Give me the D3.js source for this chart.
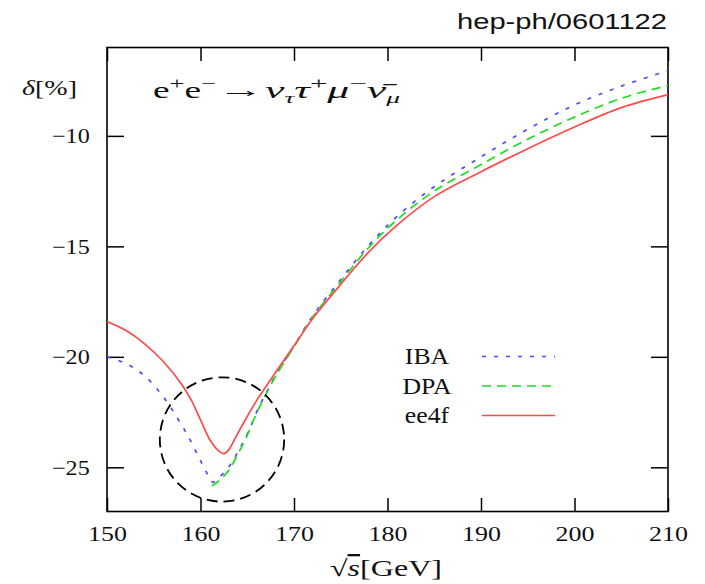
<!DOCTYPE html>
<html>
<head>
<meta charset="utf-8">
<script src="https://cdn.jsdelivr.net/npm/d3@7"></script>
<style>
  body { margin: 0; background: #fff; }
  .tick line { stroke: #000; stroke-width: 1.5; }
  .domain { display: none; }
  text { fill: #111; }
</style>
</head>
<body>
<div class="svg-container"></div>
<script>
// data: delta[%] vs sqrt(s) [GeV]
const ibaX = [150, 152, 154, 156, 158, 159, 160, 161, 161.3, 162, 163, 164, 165, 166, 167, 168, 170, 172, 175, 178, 181, 185, 190, 195, 200, 205, 210];
const ibaY = [-20.0, -20.3, -20.85, -21.8, -23.1, -23.85, -24.7, -25.5, -25.68, -25.45, -25.0, -24.3, -23.5, -22.5, -21.65, -20.85, -19.5, -18.15, -16.5, -14.95, -13.65, -12.3, -10.95, -9.7, -8.6, -7.75, -7.05];

const dpaX = [161.2, 162, 163, 164, 165, 166, 167, 168, 170, 172, 175, 178, 181, 185, 190, 195, 200, 205, 210];
const dpaY = [-25.85, -25.6, -25.15, -24.4, -23.55, -22.55, -21.7, -20.9, -19.55, -18.2, -16.6, -15.05, -13.8, -12.5, -11.3, -10.15, -9.15, -8.3, -7.72];

const ee4fX = [150, 152, 154, 156, 158, 159, 160, 161, 162, 162.5, 163, 164, 165, 166, 168, 170, 172, 175, 178, 181, 185, 190, 195, 200, 205, 210];
const ee4fY = [-18.4, -18.8, -19.4, -20.2, -21.25, -21.95, -22.85, -23.75, -24.28, -24.38, -24.22, -23.45, -22.7, -21.98, -20.72, -19.5, -18.27, -16.72, -15.25, -14.05, -12.75, -11.62, -10.58, -9.6, -8.72, -8.13];

const xTicks = [150, 160, 170, 180, 190, 200, 210];
const yTicks = [-10, -15, -20, -25];
const seriesNames = ["IBA", "DPA", "ee4f"];

// highlighted threshold region
const circleCenter = [162.3, -23.74];
const circleRadius = 6.65; // in GeV units along x

const margin = {top: 47.5, right: 37, bottom: 72.5, left: 107};
const width = 705 - margin.left - margin.right;
const height = 584 - margin.top - margin.bottom;

const serif = '"Liberation Serif", "DejaVu Serif", serif';

const svg = d3.select('.svg-container')
    .append('svg')
    .attr('width', width + margin.left + margin.right)
    .attr('height', height + margin.top + margin.bottom)
    .attr('font-family', serif);

const g = svg.append('g')
    .attr('transform', `translate(${margin.left}, ${margin.top})`);

const x = d3.scaleLinear().domain([150, 210]).range([0, width]);
const y = d3.scaleLinear().domain([-27, -6]).range([height, 0]);

// axes, ticks inward on all four sides
g.append('g')
    .attr('transform', `translate(0,${height})`)
    .call(d3.axisBottom(x).tickValues(xTicks).tickSizeInner(-13.5).tickSizeOuter(0).tickPadding(14).tickFormat(d3.format('d')))
    .call(a => a.attr('font-family', serif).attr('font-size', 22))
    .call(a => a.selectAll('text')
        .attr('fill', '#111')
        .attr('transform', 'scale(1.18,1)'));

g.append('g')
    .call(d3.axisTop(x).tickValues(xTicks).tickSizeInner(-13.5).tickSizeOuter(0).tickFormat(''));

g.append('g')
    .call(d3.axisLeft(y).tickValues(yTicks).tickSizeInner(-17).tickSizeOuter(0).tickPadding(15)
        .tickFormat(d => '\u2212' + Math.abs(d)))
    .call(a => a.attr('font-family', serif).attr('font-size', 21))
    .call(a => a.selectAll('text')
        .attr('fill', '#111')
        .attr('dy', '0.33em')
        .attr('transform', 'scale(1.15,1)'));

g.append('g')
    .attr('transform', `translate(${width},0)`)
    .call(d3.axisRight(y).tickValues(yTicks).tickSizeInner(-17).tickSizeOuter(0).tickFormat(''));

g.append('rect')
    .attr('width', width)
    .attr('height', height)
    .attr('fill', 'none')
    .attr('stroke', '#000')
    .attr('stroke-width', 1.6);

// curves
const line = d3.line()
    .x(d => x(d[0]))
    .y(d => y(d[1]))
    .curve(d3.curveCatmullRom.alpha(0.5));

const series = [
  {name: "IBA", xs: ibaX, ys: ibaY, color: '#4b4bff', dash: '4,8', w: 1.7},
  {name: "DPA", xs: dpaX, ys: dpaY, color: '#1fdc1f', dash: '9,6', w: 1.7},
  {name: "ee4f", xs: ee4fX, ys: ee4fY, color: '#ff4a4a', dash: null, w: 1.7}
];

g.append('clipPath').attr('id', 'clip')
    .append('rect').attr('width', width).attr('height', height);

g.append('g').attr('clip-path', 'url(#clip)')
  .selectAll('path.curve')
  .data(series)
  .enter().append('path')
    .attr('class', 'curve')
    .attr('d', s => line(s.xs.map((v, i) => [v, s.ys[i]])))
    .attr('fill', 'none')
    .attr('stroke', s => s.color)
    .attr('stroke-width', s => s.w)
    .attr('stroke-dasharray', s => s.dash);

// dashed circle
g.append('circle')
    .attr('cx', x(circleCenter[0]))
    .attr('cy', y(circleCenter[1]))
    .attr('r', x(circleCenter[0] + circleRadius) - x(circleCenter[0]))
    .attr('fill', 'none')
    .attr('stroke', '#000')
    .attr('stroke-width', 1.8)
    .attr('stroke-dasharray', '11,6');

// legend
const legend = g.selectAll('.legend')
    .data(series)
    .enter().append('g')
      .attr('class', 'legend')
      .attr('transform', (d, i) => `translate(0,${309 + i * 29.5})`);

legend.append('text')
    .attr('x', 0)
    .attr('y', 0)
    .attr('dy', '0.33em')
    .attr('text-anchor', 'middle')
    .attr('transform', 'translate(320,0) scale(1.12,1)')
    .attr('font-size', 23)
    .text(d => d.name);

legend.append('line')
    .attr('x1', 375)
    .attr('x2', 448)
    .attr('stroke', d => d.color)
    .attr('stroke-width', d => d.w)
    .attr('stroke-dasharray', d => d.dash);

// process label, in three pieces
const p1 = svg.append('text')
    .attr('x', 153).attr('y', 98)
    .attr('font-size', 24)
    .attr('textLength', 63).attr('lengthAdjust', 'spacingAndGlyphs');
p1.append('tspan').text('e');
p1.append('tspan').attr('dy', -9).attr('font-size', 17).text('+');
p1.append('tspan').attr('dy', 9).text('e');
p1.append('tspan').attr('dy', -9).attr('font-size', 17).text('\u2212');

svg.append('text')
    .attr('transform', 'translate(241,97) scale(2.1,1)')
    .attr('text-anchor', 'middle')
    .attr('font-size', 22)
    .text('\u2192');

const p3 = svg.append('text')
    .attr('x', 265).attr('y', 98)
    .attr('font-size', 24)
    .attr('font-style', 'italic')
    .attr('textLength', 135).attr('lengthAdjust', 'spacingAndGlyphs');
p3.append('tspan').text('\u03bd');
p3.append('tspan').attr('dy', 5).attr('font-size', 15).text('\u03c4');
p3.append('tspan').attr('dy', -5).text('\u03c4');
p3.append('tspan').attr('dy', -9).attr('font-size', 17).attr('font-style', 'normal').text('+');
p3.append('tspan').attr('dy', 9).text('\u03bc');
p3.append('tspan').attr('dy', -9).attr('font-size', 17).attr('font-style', 'normal').text('\u2212');
p3.append('tspan').attr('dy', 9).text('\u03bd\u0304');
p3.append('tspan').attr('dy', 5).attr('font-size', 15).text('\u03bc');

// y label
const yl = svg.append('text')
    .attr('x', 22).attr('y', 95)
    .attr('font-size', 22)
    .attr('textLength', 55).attr('lengthAdjust', 'spacingAndGlyphs');
yl.append('tspan').attr('font-style', 'italic').text('\u03b4');
yl.append('tspan').text('[%]');

// x label
const xl = svg.append('text')
    .attr('x', 330).attr('y', 576)
    .attr('font-size', 23)
    .attr('textLength', 112).attr('lengthAdjust', 'spacingAndGlyphs');
xl.append('tspan').text('\u221a');
xl.append('tspan').attr('font-style', 'italic').style('text-decoration', 'overline').text('s');
xl.append('tspan').text('[GeV]');

// preprint id
svg.append('text')
    .attr('x', 667)
    .attr('y', 29)
    .attr('text-anchor', 'end')
    .attr('textLength', 210)
    .attr('lengthAdjust', 'spacingAndGlyphs')
    .attr('font-family', '"Liberation Sans", Arial, sans-serif')
    .attr('font-size', 22)
    .attr('fill', '#000')
    .text('hep-ph/0601122');
</script>
</body>
</html>
